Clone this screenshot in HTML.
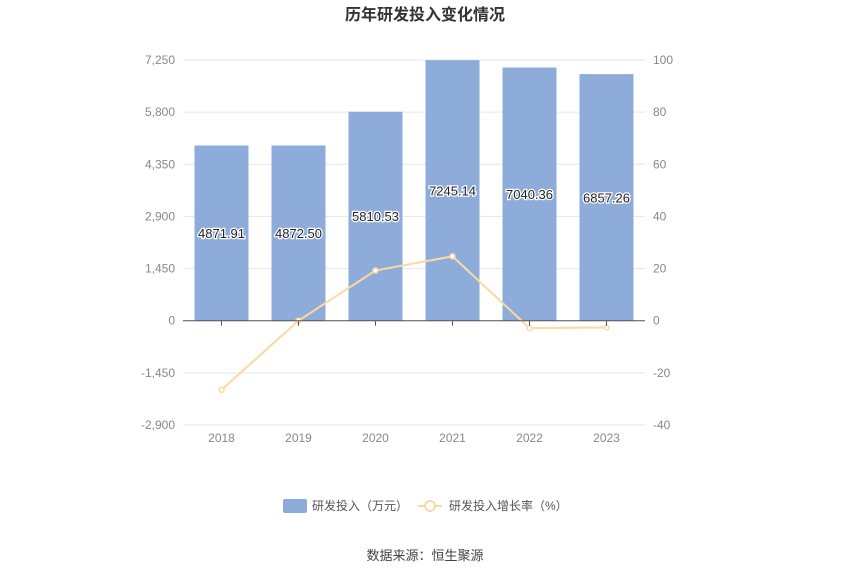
<!DOCTYPE html>
<html><head><meta charset="utf-8"><style>
body{margin:0;background:#fff;}
svg text{font-family:"Liberation Sans","Noto Sans CJK SC",sans-serif;}
</style></head><body>
<svg id="c" width="850" height="574" viewBox="0 0 850 574">
<text x="425" y="20" text-anchor="middle" font-size="16" font-weight="bold" fill="#333">历年研发投入变化情况</text>
<g id="grid"></g><g id="bars"></g><g id="line"></g><g id="axes"></g>
<g>
<rect x="283" y="499" width="24" height="14" rx="2" fill="#8eacd9"/>
<text x="312" y="510" font-size="12" fill="#555">研发投入（万元）</text>
<line x1="418" y1="506" x2="442" y2="506" stroke="#fcd99e" stroke-width="2"/>
<circle cx="430" cy="506" r="5" fill="#fff" stroke="#fcd99e" stroke-width="2"/>
<text x="449" y="510" font-size="12" fill="#555">研发投入增长率（%）</text>
</g>
<text x="425" y="560" text-anchor="middle" font-size="13" fill="#444">数据来源：恒生聚源</text>
</svg>
<script>
const categories=["2018","2019","2020","2021","2022","2023"];
const rdValues=[4871.91,4872.50,5810.53,7245.14,7040.36,6857.26];
const growthValues=[-26.5,0.01,19.25,24.69,-2.83,-2.60];
const leftTicks=[-2900,-1450,0,1450,2900,4350,5800,7250];
const rightTicks=[-40,-20,0,20,40,60,80,100];
const leftLabels=["-2,900","-1,450","0","1,450","2,900","4,350","5,800","7,250"];
const NS="http://www.w3.org/2000/svg";
const X0=183,X1=645,YT=60,YB=425;
const yL=v=>YB-(v-(-2900))/(7250-(-2900))*(YB-YT);
const yR=v=>YB-(v-(-40))/(140)*(YB-YT);
const band=(X1-X0)/categories.length;
const xC=i=>X0+band*(i+0.5);
function mk(tag,attrs,parent){const e=document.createElementNS(NS,tag);for(const k in attrs)e.setAttribute(k,attrs[k]);document.getElementById(parent).appendChild(e);return e;}
leftTicks.forEach((t,i)=>{
 const g=mk('line',{x1:X0,x2:X1,y1:yL(t),y2:yL(t),stroke:'#e3e6ee','stroke-width':1},'grid');
 
 
 const l=mk('text',{x:X0-8,y:yL(t)+4,'text-anchor':'end','font-size':12,fill:'#888'},'axes');l.textContent=leftLabels[i];
 
 
});
rightTicks.forEach(t=>{
 const l=mk('text',{x:X1+8,y:yR(t)+4,'text-anchor':'start','font-size':12,fill:'#888'},'axes');l.textContent=t;
 
 
});
const ax=mk('line',{x1:X0,x2:X1,y1:yL(0),y2:yL(0),stroke:'#555','stroke-width':1},'axes');


categories.forEach((c,i)=>{
 const tk=mk('line',{x1:xC(i),x2:xC(i),y1:yL(0),y2:yL(0)+5,stroke:'#555'},'axes');
 
 
 const l=mk('text',{x:xC(i),y:442,'text-anchor':'middle','font-size':12,fill:'#888'},'axes');l.textContent=c;
 
 
 const v=rdValues[i];
 const b=mk('rect',{x:xC(i)-27,y:yL(v),width:54,height:yL(0)-yL(v),fill:'#8eacd9'},'bars');
 
 
 const bl=mk('text',{x:xC(i),y:(yL(v)+yL(0))/2+5,'text-anchor':'middle','font-size':13,fill:'#222',stroke:'#fff','stroke-width':2.5,'paint-order':'stroke'},'bars');bl.textContent=v.toFixed(2);
 
 
});
const pl=mk('polyline',{points:growthValues.map((v,i)=>xC(i)+','+yR(v)).join(' '),fill:'none',stroke:'#fcd99e','stroke-width':2},'line');


growthValues.forEach((v,i)=>{
 const p=mk('circle',{cx:xC(i),cy:yR(v),r:2.5,fill:'#fff',stroke:'#fcd99e','stroke-width':1.5},'line');
 
 
});
</script>
</body></html>
